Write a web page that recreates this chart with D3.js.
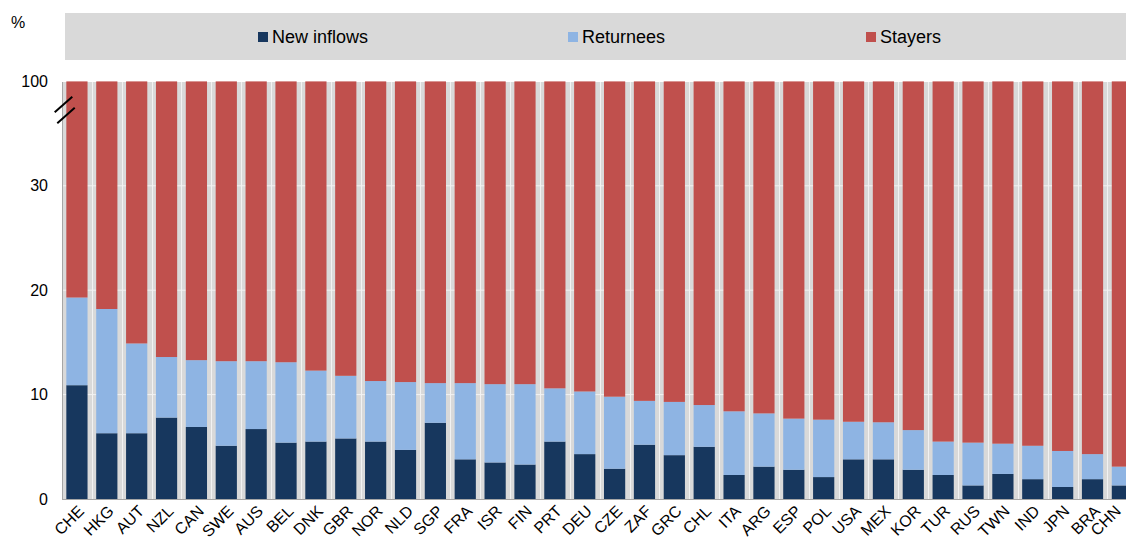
<!DOCTYPE html>
<html>
<head>
<meta charset="utf-8">
<script src="https://cdn.jsdelivr.net/npm/d3@7"></script>
<style>
  body { margin: 0; background: #fff; }
  #wrap { position: relative; width: 1126px; height: 543px; overflow: hidden; }
  svg { display: block; font-family: Arial, "Liberation Sans", sans-serif; }
  .xlab {
    position: absolute;
    font-family: Arial, "Liberation Sans", sans-serif;
    font-size: 16px;
    line-height: 16px;
    white-space: nowrap;
    color: #000;
    transform-origin: 100% 0;
    transform: rotate(-45deg);
  }
</style>
</head>
<body>
<div id="wrap">
<svg id="chart" width="1126" height="543"></svg>
</div>
<script>
// country codes, in chart order
const countries = ['CHE', 'HKG', 'AUT', 'NZL', 'CAN', 'SWE', 'AUS', 'BEL', 'DNK', 'GBR', 'NOR', 'NLD',
  'SGP', 'FRA', 'ISR', 'FIN', 'PRT', 'DEU', 'CZE', 'ZAF', 'GRC', 'CHL', 'ITA', 'ARG',
  'ESP', 'POL', 'USA', 'MEX', 'KOR', 'TUR', 'RUS', 'TWN', 'IND', 'JPN', 'BRA', 'CHN'];

// share of new inflows (%)
const newInflows = [10.9, 6.3, 6.3, 7.8, 6.9, 5.1, 6.7, 5.4, 5.5, 5.8, 5.5, 4.7,
  7.3, 3.8, 3.5, 3.3, 5.5, 4.3, 2.9, 5.2, 4.2, 5.0, 2.3, 3.1,
  2.8, 2.1, 3.8, 3.8, 2.8, 2.3, 1.3, 2.4, 1.9, 1.15, 1.9, 1.3];

// share of returnees (%)
const returnees = [8.4, 11.9, 8.6, 5.8, 6.4, 8.1, 6.5, 7.7, 6.8, 6.0, 5.8, 6.5,
  3.8, 7.3, 7.5, 7.7, 5.1, 6.0, 6.9, 4.2, 5.1, 4.0, 6.1, 5.1,
  4.9, 5.5, 3.6, 3.55, 3.8, 3.2, 4.1, 2.9, 3.2, 3.45, 2.4, 1.8];

// stayers make up the rest
const stayers = countries.map((c, i) => +(100 - newInflows[i] - returnees[i]).toFixed(2));

const seriesNames = ['New inflows', 'Returnees', 'Stayers'];
const seriesColors = ['#17375e', '#8eb4e3', '#c0504d'];
const yTicks = [0, 10, 20, 30, 100];

const svg = d3.select('#chart');
const margin = { left: 62, top: 80, bottom: 499 };

const rows = countries.map((c, i) => ({
  country: c,
  'New inflows': newInflows[i],
  Returnees: returnees[i],
  Stayers: stayers[i],
}));

const x = d3.scaleBand()
  .domain(countries)
  .range([margin.left, margin.left + 36 * 29.87])
  .paddingInner(0.29)
  .paddingOuter(0.145);

// broken axis: 0-30 linear, then 30 -> 100 squeezed into one step
const y = d3.scaleLinear()
  .domain([0, 30, 100])
  .range([margin.bottom, margin.bottom - 3 * 104.4, margin.bottom - 4 * 104.4]);

// plot background
svg.append('rect')
  .attr('x', margin.left)
  .attr('y', 82)
  .attr('width', 1126 - margin.left)
  .attr('height', margin.bottom - 82)
  .attr('fill', '#d9d9d9');

// horizontal gridlines
svg.append('g')
  .selectAll('line')
  .data(yTicks.slice(1, 4))
  .join('line')
  .attr('x1', margin.left)
  .attr('x2', 1126)
  .attr('y1', d => y(d))
  .attr('y2', d => y(d))
  .attr('stroke', '#f2f2f2')
  .attr('stroke-width', 1);

// vertical gridlines between categories
const step = x.step();
svg.append('g')
  .selectAll('line')
  .data(countries.slice(1))
  .join('line')
  .attr('x1', d => Math.round(x(d) - step * x.paddingInner() / 2) + 0.5)
  .attr('x2', d => Math.round(x(d) - step * x.paddingInner() / 2) + 0.5)
  .attr('y1', 82)
  .attr('y2', margin.bottom)
  .attr('stroke', '#f2f2f2')
  .attr('stroke-width', 1);

// stacked bars
const stack = d3.stack().keys(seriesNames);
const layers = stack(rows);

svg.append('g')
  .selectAll('g')
  .data(layers)
  .join('g')
  .attr('fill', (d, i) => seriesColors[i])
  .selectAll('rect')
  .data(d => d)
  .join('rect')
  .attr('x', d => x(d.data.country))
  .attr('width', x.bandwidth())
  .attr('y', d => y(d[1]))
  .attr('height', d => y(d[0]) - y(d[1]));

// axes lines
svg.append('line')
  .attr('x1', margin.left + 0.5).attr('x2', margin.left + 0.5)
  .attr('y1', 82).attr('y2', margin.bottom)
  .attr('stroke', '#a6a6a6');
svg.append('line')
  .attr('x1', margin.left).attr('x2', 1126)
  .attr('y1', margin.bottom + 0.5).attr('y2', margin.bottom + 0.5)
  .attr('stroke', '#a6a6a6');

// y axis labels
const yAxis = d3.axisLeft(y).tickValues(yTicks).tickSize(0).tickPadding(14);
const yG = svg.append('g')
  .attr('transform', `translate(${margin.left},0)`)
  .call(yAxis);
yG.select('.domain').remove();
yG.selectAll('text')
  .attr('font-size', 16)
  .attr('font-family', 'Arial, "Liberation Sans", sans-serif')
  .attr('fill', '#000');

// axis break marks
svg.append('g')
  .selectAll('line')
  .data([[54.7, 112.3, 72.3, 96.7], [57.3, 123.3, 74.7, 107.7]])
  .join('line')
  .attr('x1', d => d[0]).attr('y1', d => d[1])
  .attr('x2', d => d[2]).attr('y2', d => d[3])
  .attr('stroke', '#000')
  .attr('stroke-width', 2);

// x labels, rotated -45 with CSS (top-right corner pinned under each bar)
const labelRight = d => Math.min(x(d) + x.bandwidth() / 2 - 1, 1126 - 13);
d3.select('#wrap')
  .selectAll('div.xlab')
  .data(countries)
  .join('div')
  .attr('class', 'xlab')
  .style('right', d => `${1126 - labelRight(d)}px`)
  .style('top', `${margin.bottom + 4}px`)
  .text(d => d);

// % label
svg.append('text')
  .attr('x', 11)
  .attr('y', 28)
  .attr('font-size', 16)
  .text('%');

// legend
svg.append('rect')
  .attr('x', 65)
  .attr('y', 13)
  .attr('width', 1126 - 65)
  .attr('height', 47)
  .attr('fill', '#d9d9d9');

const legendX = [258, 568, 866];
const legend = svg.append('g')
  .selectAll('g')
  .data(seriesNames)
  .join('g')
  .attr('transform', (d, i) => `translate(${legendX[i]},37)`);
legend.append('rect')
  .attr('x', 0)
  .attr('y', -5)
  .attr('width', 10)
  .attr('height', 10)
  .attr('fill', (d, i) => seriesColors[i]);
legend.append('text')
  .attr('x', 14)
  .attr('y', 6)
  .attr('font-size', 18)
  .text(d => d);
</script>
</body>
</html>
